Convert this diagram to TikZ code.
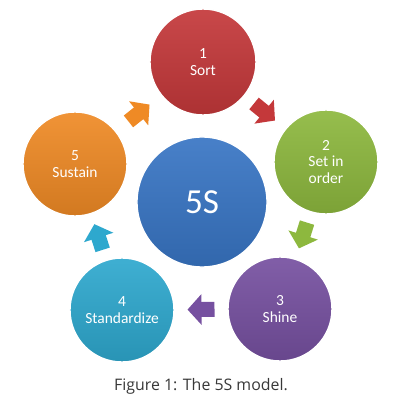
\documentclass[tikz,border=0pt]{standalone}
\usepackage{fontspec}
\setmainfont{Carlito}
\newfontfamily\captionfont{Open Sans}
\usetikzlibrary{arrows.meta,calc}

\definecolor{sortred}{HTML}{C4383A}
\definecolor{setgreen}{HTML}{8DB83E}
\definecolor{shinepurple}{HTML}{7650A0}
\definecolor{stdteal}{HTML}{2EA8CE}
\definecolor{sustorange}{HTML}{EF8A25}
\definecolor{coreblue}{HTML}{3875C4}

\tikzset{
	stepcircle/.style={circle, minimum size=2.6cm, inner sep=0pt, draw=white, line width=1pt,
		text=white, align=center, font=\fontsize{11}{12}\selectfont,
		top color=#1!92!white, bottom color=#1!88!black},
	flow/.style={line width=0.375cm, #1, -{Triangle[length=0.35cm, width=0.75cm]}}
}

\begin{document}
\begin{tikzpicture}[x=0.025cm, y=0.025cm]
	\useasboundingbox (0,0) rectangle (400,409);
	% the five steps round the centre
	\node[stepcircle=sortred, minimum size=2.65cm] (sort) at (203,347) {1\\Sort};
	\node[stepcircle=setgreen] (setorder) at (326,247) {2\\Set in\\order};
	\node[stepcircle=shinepurple] (shine) at (280,100) {3\\Shine};
	\node[stepcircle=stdteal] (standardize) at (122,99) {4\\Standardize};
	\node[stepcircle=sustorange] (sustain) at (75,245) {5\\Sustain};
	\node[stepcircle=coreblue, minimum size=3.25cm, font=\fontsize{25}{25}\selectfont] (core) at (202,207) {5S};
	% block arrows between neighbours
	\foreach \from/\to/\col in {sort/setorder/sortred, setorder/shine/setgreen, shine/standardize/shinepurple,
		standardize/sustain/stdteal, sustain/sort/sustorange} {
		\draw[flow=\col] ($(\from)!0.5!(\to)!0.3375cm!(\from)$) -- ($(\from)!0.5!(\to)!0.3375cm!(\to)$);
	}
	\node[anchor=base, text=black!78, font=\captionfont\fontsize{11.3}{12}\selectfont] (caption) at (201,18) {Figure 1: The 5S model.};
\end{tikzpicture}
\end{document}
